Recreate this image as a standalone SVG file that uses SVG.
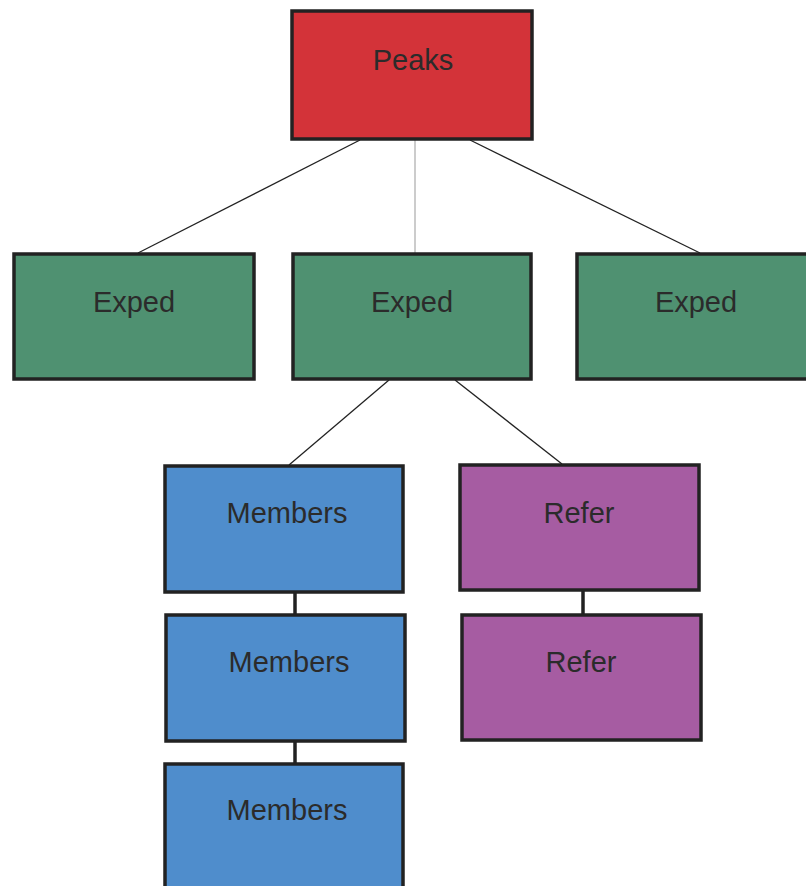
<svg xmlns="http://www.w3.org/2000/svg" width="806" height="886" viewBox="0 0 806 886">
<style>
.box{stroke:#222;stroke-width:3.5}
.red{fill:#d33339}
.green{fill:#4f9171}
.blue{fill:#4f8dcc}
.purple{fill:#a65ca2}
.lbl{font-family:"Liberation Sans",Arial,sans-serif;font-size:29px;fill:#2b2b2b;text-anchor:middle}
.ln{stroke:#222;stroke-width:1.3;fill:none}
.thick{stroke:#222;stroke-width:3.5;fill:none}
</style>
<rect width="806" height="886" fill="#fff"/>
<g id="connectors">
<line class="ln" x1="360" y1="140" x2="138" y2="253"/>
<line x1="415" y1="140" x2="415" y2="253" stroke="#999" stroke-width="1"/>
<line class="ln" x1="470" y1="140" x2="700" y2="253"/>
<line class="ln" x1="389" y1="380" x2="289" y2="465"/>
<line class="ln" x1="455" y1="380" x2="562" y2="464"/>
<line class="thick" x1="295" y1="593" x2="295" y2="614"/>
<line class="thick" x1="295" y1="742" x2="295" y2="763"/>
<line class="thick" x1="583" y1="591" x2="583" y2="614"/>
</g>
<g id="peaks"><rect class="box red" x="292" y="11" width="240" height="128"/><text class="lbl" x="413" y="70">Peaks</text></g>
<g id="exped1"><rect class="box green" x="14" y="254" width="240" height="125"/><text class="lbl" x="134" y="312">Exped</text></g>
<g id="exped2"><rect class="box green" x="293" y="254" width="238" height="125"/><text class="lbl" x="412" y="312">Exped</text></g>
<g id="exped3"><rect class="box green" x="577" y="254" width="242" height="125"/><text class="lbl" x="696" y="312">Exped</text></g>
<g id="members1"><rect class="box blue" x="165" y="466" width="238" height="126"/><text class="lbl" x="287" y="523">Members</text></g>
<g id="members2"><rect class="box blue" x="166" y="615" width="239" height="126"/><text class="lbl" x="289" y="672">Members</text></g>
<g id="members3"><rect class="box blue" x="165" y="764" width="238" height="130"/><text class="lbl" x="287" y="820">Members</text></g>
<g id="refer1"><rect class="box purple" x="460" y="465" width="239" height="125"/><text class="lbl" x="579" y="523">Refer</text></g>
<g id="refer2"><rect class="box purple" x="462" y="615" width="239" height="125"/><text class="lbl" x="581" y="672">Refer</text></g>
</svg>
